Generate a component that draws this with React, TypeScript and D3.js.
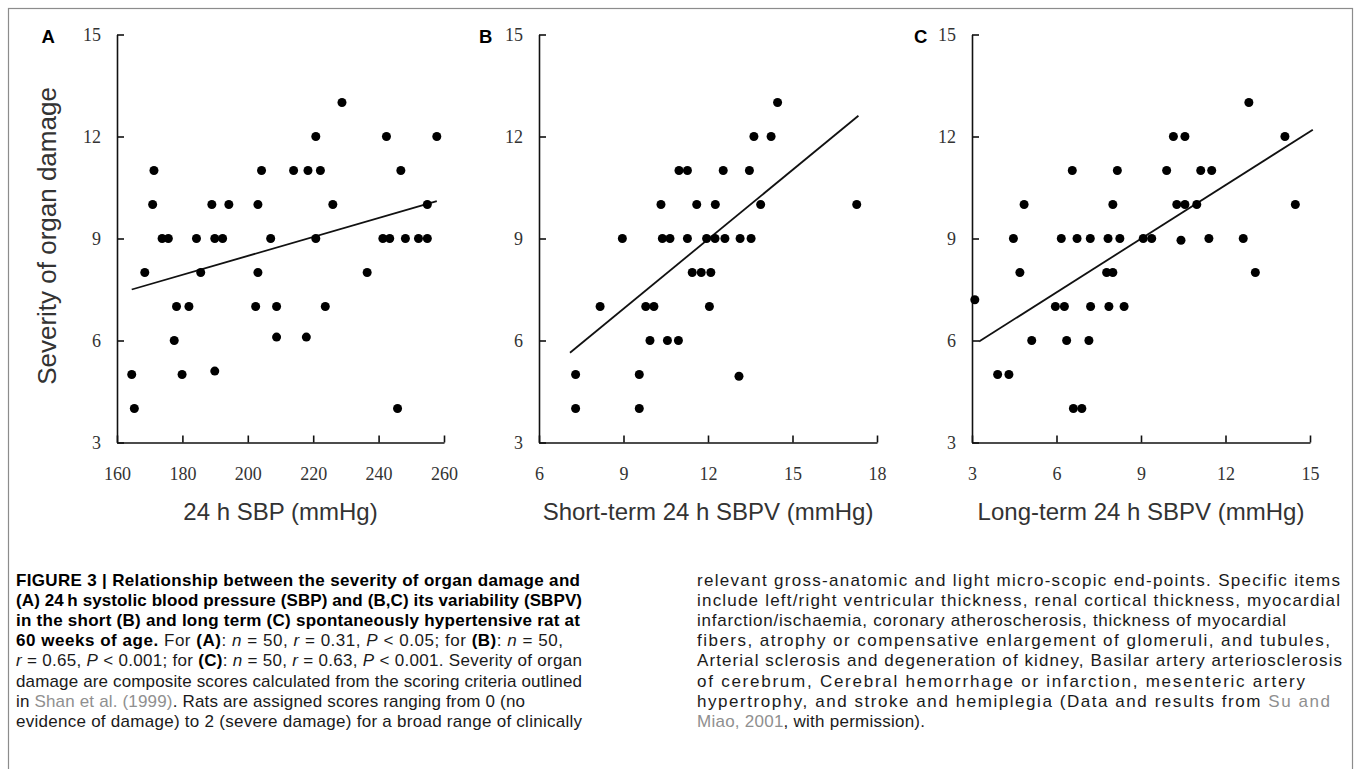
import React, { useEffect, useRef } from "react";
import * as d3 from "d3";

// Panel A: 24 h SBP (mmHg) vs severity score
const sbpA = [168.5, 171.3, 170.9, 173.8, 175.7, 184.3, 185.6, 189, 189.9, 192.3, 194.2, 203.1, 203.1, 204.2, 207, 214, 218.4, 220.8, 222.2, 220.8, 226, 228.8, 236.5, 242.4, 241.3, 243.4, 246.8, 248.2, 252.2, 254.9, 254.9, 257.8, 178.2, 182, 202.4, 208.8, 223.7, 177.5, 208.8, 217.9, 164.5, 179.9, 189.9, 165.3, 245.8];
const scoreA = [8, 11, 10, 9, 9, 9, 8, 10, 9, 9, 10, 10, 8, 11, 9, 11, 11, 12, 11, 9, 10, 13, 8, 12, 9, 9, 11, 9, 9, 9, 10, 12, 7, 7, 7, 7, 7, 6, 6.1, 6.1, 5, 5, 5.1, 4, 4];
const fitAX = [164.5, 257.8];
const fitAY = [7.5, 10.1];

// Panel B: short-term SBPV
const sbpvShortB = [8.96, 10.33, 10.38, 10.65, 10.97, 11.27, 11.27, 11.6, 11.44, 11.76, 12.1, 11.95, 12.25, 12.26, 12.54, 12.6, 13.14, 13.53, 13.47, 13.87, 13.63, 14.24, 14.47, 17.28, 8.17, 9.79, 10.08, 12.05, 9.94, 10.56, 10.95, 7.3, 9.56, 13.1, 7.3, 9.56];
const scoreB = [9, 10, 9, 9, 11, 11, 9, 10, 8, 8, 8, 9, 9, 10, 11, 9, 9, 9, 11, 10, 12, 12, 13, 10, 7, 7, 7, 7, 6, 6, 6, 5, 5, 4.95, 4, 4];
const fitBX = [7.1, 17.34];
const fitBY = [5.64, 12.61];

// Panel C: long-term SBPV
const sbpvLongC = [4.47, 4.85, 4.7, 6.56, 6.17, 6.73, 7.2, 7.83, 8.25, 8.16, 8.0, 7.78, 8.0, 9.08, 9.38, 9.91, 10.15, 10.56, 10.27, 10.56, 10.98, 10.42, 11.12, 11.51, 11.41, 12.63, 12.83, 13.06, 14.11, 14.48, 3.1, 5.96, 6.28, 7.21, 7.86, 8.4, 5.12, 6.36, 7.15, 3.91, 4.31, 6.6, 6.9];
const scoreC = [9, 10, 8, 11, 9, 9, 9, 9, 9, 11, 10, 8, 8, 9, 9, 11, 12, 12, 10, 10, 10, 8.95, 11, 11, 9, 9, 13, 8, 12, 10, 7.2, 7, 7, 7, 7, 7, 6, 6, 6, 5, 5, 4, 4];
const fitCX = [3.25, 15.1];
const fitCY = [5.97, 12.2];

const yTicks = [3, 6, 9, 12, 15];
const xTicksA = [160, 180, 200, 220, 240, 260];
const xTicksB = [6, 9, 12, 15, 18];
const xTicksC = [3, 6, 9, 12, 15];

const xTitles = ["24 h SBP (mmHg)", "Short-term 24 h SBPV (mmHg)", "Long-term 24 h SBPV (mmHg)"];
const yTitle = "Severity of organ damage";
const panelLetters = ["A", "B", "C"];

// caption segments: [style, text]; b = bold, i = italic, l = link (grey)
type Seg = [string, string];
const captionLeft: Seg[][] = [
  [["b", "FIGURE 3 | Relationship between the severity of organ damage and"]],
  [["b", "(A) 24\u2009h systolic blood pressure (SBP) and (B,C) its variability (SBPV)"]],
  [["b", "in the short (B) and long term (C) spontaneously hypertensive rat at"]],
  [["b", "60 weeks of age."], ["", " For "], ["b", "(A)"], ["", ": "], ["i", "n"], ["", " = 50, "], ["i", "r"], ["", " = 0.31, "], ["i", "P"], ["", " < 0.05; for "], ["b", "(B)"], ["", ": "], ["i", "n"], ["", " = 50,"]],
  [["i", "r"], ["", " = 0.65, "], ["i", "P"], ["", " < 0.001; for "], ["b", "(C)"], ["", ": "], ["i", "n"], ["", " = 50, "], ["i", "r"], ["", " = 0.63, "], ["i", "P"], ["", " < 0.001. Severity of organ"]],
  [["", "damage are composite scores calculated from the scoring criteria outlined"]],
  [["", "in "], ["l", "Shan et al. (1999)"], ["", ". Rats are assigned scores ranging from 0 (no"]],
  [["", "evidence of damage) to 2 (severe damage) for a broad range of clinically"]],
];
const captionRight: Seg[][] = [
  [["", "relevant gross-anatomic and light micro-scopic end-points. Specific items"]],
  [["", "include left/right ventricular thickness, renal cortical thickness, myocardial"]],
  [["", "infarction/ischaemia, coronary atheroscherosis, thickness of myocardial"]],
  [["", "fibers, atrophy or compensative enlargement of glomeruli, and tubules,"]],
  [["", "Arterial sclerosis and degeneration of kidney, Basilar artery arteriosclerosis"]],
  [["", "of cerebrum, Cerebral hemorrhage or infarction, mesenteric artery"]],
  [["", "hypertrophy, and stroke and hemiplegia (Data and results from "], ["l", "Su and"]],
  [["l", "Miao, 2001"], ["", ", with permission)."]],
];

const W = 1355;
const H = 769;

export default function App() {
  const svgRef = useRef<SVGSVGElement>(null);

  useEffect(() => {
    const svg = d3.select(svgRef.current);
    svg.selectAll("*").remove();

    // outer frame
    svg
      .append("rect")
      .attr("x", 8.5)
      .attr("y", 8.5)
      .attr("width", 1344)
      .attr("height", 820)
      .attr("fill", "none")
      .attr("stroke", "#8c8c8c")
      .attr("stroke-width", 1.2);

    const top = 34.5;
    const bottom = 442.5;

    const panels = [
      { xs: sbpA, ys: scoreA, fx: fitAX, fy: fitAY, domain: [160, 260], ticks: xTicksA, left: 117, right: 444, letterX: 41.5 },
      { xs: sbpvShortB, ys: scoreB, fx: fitBX, fy: fitBY, domain: [6, 18], ticks: xTicksB, left: 539, right: 877, letterX: 479 },
      { xs: sbpvLongC, ys: scoreC, fx: fitCX, fy: fitCY, domain: [3, 15], ticks: xTicksC, left: 972, right: 1310, letterX: 914 },
    ];

    panels.forEach((p, i) => {
      const x = d3.scaleLinear().domain(p.domain).range([p.left, p.right]);
      const y = d3.scaleLinear().domain([3, 15]).range([bottom, top]);
      const g = svg.append("g");

      const yAxis = g
        .append("g")
        .attr("transform", `translate(${p.left},0)`)
        .call(d3.axisLeft(y).tickValues(yTicks).tickSizeInner(-7).tickSizeOuter(0).tickPadding(16));
      const xAxis = g
        .append("g")
        .attr("transform", `translate(0,${bottom})`)
        .call(d3.axisBottom(x).tickValues(p.ticks).tickSizeInner(-7).tickSizeOuter(0).tickPadding(25));

      [yAxis, xAxis].forEach((ax) => {
        ax.selectAll("path, line").attr("stroke", "#111").attr("stroke-width", 1.6);
        ax.selectAll("text")
          .attr("fill", "#333")
          .style("font-family", "'Liberation Serif', serif")
          .style("font-size", "18px");
      });

      // regression line
      const fitPts: [number, number][] = p.fx.map((v, k) => [v, p.fy[k]]);
      g.append("path")
        .datum(fitPts)
        .attr("d", d3.line<[number, number]>().x((d) => x(d[0])).y((d) => y(d[1])))
        .attr("fill", "none")
        .attr("stroke", "#111")
        .attr("stroke-width", 1.8);

      // points
      g.selectAll("circle")
        .data(p.xs.map((v, k) => [v, p.ys[k]]))
        .join("circle")
        .attr("cx", (d) => x(d[0]))
        .attr("cy", (d) => y(d[1]))
        .attr("r", 4.5)
        .attr("fill", "#000");

      // x title
      g.append("text")
        .attr("x", (p.left + p.right) / 2)
        .attr("y", 520)
        .attr("text-anchor", "middle")
        .attr("fill", "#333")
        .style("font-family", "'Liberation Sans', Arial, sans-serif")
        .style("font-size", "24px")
        .text(xTitles[i]);

      // panel letter
      g.append("text")
        .attr("x", p.letterX)
        .attr("y", 42.5)
        .attr("fill", "#000")
        .style("font-family", "'Liberation Sans', Arial, sans-serif")
        .style("font-weight", "bold")
        .style("font-size", "18.5px")
        .text(panelLetters[i]);
    });

    // y title (panel A only)
    svg
      .append("text")
      .attr("transform", "translate(56,236) rotate(-90)")
      .attr("text-anchor", "middle")
      .attr("fill", "#333")
      .style("font-family", "'Liberation Sans', Arial, sans-serif")
      .style("font-size", "26px")
      .text(yTitle);

    // caption, each line stretched to the line end seen in the figure
    const leftEnds = [580, 582, 580, 563, 582, 582, 525, 582];
    const rightEnds = [1340, 1340, 1286, 1330, 1342, 1305, 1330, 925];
    const drawColumn = (lines: Seg[][], x0: number, ends: number[]) => {
      lines.forEach((segs, k) => {
        const t = svg
          .append("text")
          .attr("x", x0)
          .attr("y", 586 + k * 20.1)
          .attr("fill", "#1a1a1a")
          .attr("textLength", ends[k] - x0)
          .attr("lengthAdjust", "spacing")
          .style("font-family", "'Liberation Sans', Arial, sans-serif")
          .style("font-size", "17px");
        segs.forEach(([st, txt]) => {
          const s = t.append("tspan").text(txt);
          if (st === "b") s.style("font-weight", "bold").attr("fill", "#000");
          if (st === "i") s.style("font-style", "italic");
          if (st === "l") s.attr("fill", "#8f8f8f");
        });
      });
    };
    drawColumn(captionLeft, 16, leftEnds);
    drawColumn(captionRight, 697, rightEnds);
  }, []);

  return (
    <svg
      ref={svgRef}
      width={W}
      height={H}
      style={{ position: "absolute", left: 0, top: 0, background: "#fff" }}
    />
  );
}
